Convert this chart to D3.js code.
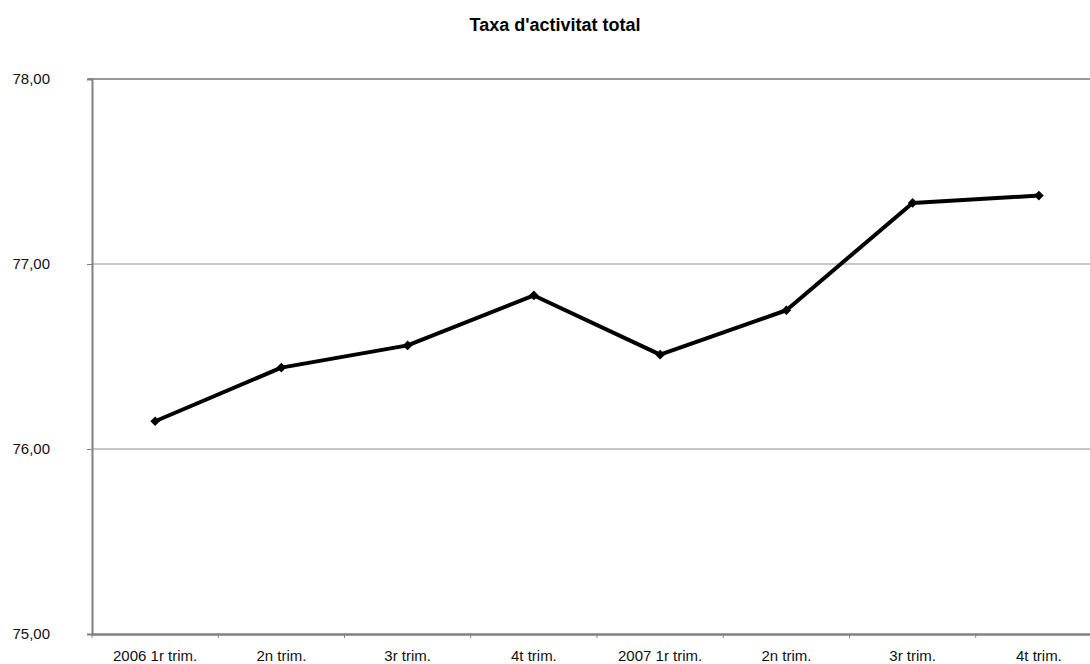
<!DOCTYPE html>
<html><head><meta charset="utf-8">
<script src="https://cdn.jsdelivr.net/npm/d3@7"></script>
<style>body{margin:0;background:#fff;} svg{display:block;font-family:Arial,"Liberation Sans",sans-serif;}</style>
</head><body>
<script>
const categories = ["2006 1r trim.","2n trim.","3r trim.","4t trim.","2007 1r trim.","2n trim.","3r trim.","4t trim."];
const values = [76.15, 76.44, 76.56, 76.83, 76.51, 76.75, 77.33, 77.37];
const yTicks = [75, 76, 77, 78];
const title = "Taxa d'activitat total";

const W = 1090, H = 664;
const m = {left: 92, top: 79, right: -12, bottom: 30};
const svg = d3.select("body").append("svg").attr("width", W).attr("height", H);

const x = d3.scaleBand().domain(d3.range(categories.length)).range([m.left, W - m.right]).padding(0);
const y = d3.scaleLinear().domain([75, 78]).range([H - m.bottom, m.top]);

svg.append("text").attr("x", 555).attr("y", 30.5).attr("text-anchor", "middle")
  .attr("font-weight", "bold").attr("font-size", 18).text(title);

// gridlines
svg.append("g").selectAll("line").data(yTicks.filter(d => d > 75 && d < 78)).join("line")
  .attr("x1", m.left).attr("x2", W).attr("y1", d => y(d)).attr("y2", d => y(d))
  .attr("stroke", "#b4b4b4").attr("stroke-width", 1.5);
// top border
svg.append("line").attr("x1", m.left - 4).attr("x2", W).attr("y1", y(78)).attr("y2", y(78))
  .attr("stroke", "#999").attr("stroke-width", 2);

// y axis
const ya = d3.axisLeft(y).tickValues(yTicks).tickSize(5).tickFormat(d => d3.format(".2f")(d).replace(".", ","));
const gy = svg.append("g").attr("transform", `translate(${m.left},0)`).call(ya);
gy.select(".domain").attr("stroke", "#808080").attr("stroke-width", 2);
gy.selectAll(".tick line").attr("stroke", "#808080");
gy.selectAll(".tick text").attr("x", -42).attr("font-size", 15).attr("fill", "#111").attr("font-family", "Arial, Liberation Sans, sans-serif");

// x axis
const xa = d3.axisBottom(x).tickFormat(i => categories[i]).tickSize(0);
const gx = svg.append("g").attr("transform", `translate(0,${y(75)})`).call(xa);
gx.select(".domain").attr("stroke", "#808080").attr("stroke-width", 2.5);
gx.selectAll(".tick text").attr("y", 16).attr("font-size", 15).attr("fill", "#111").attr("font-family", "Arial, Liberation Sans, sans-serif");
// category boundary ticks
svg.append("g").selectAll("line").data(d3.range(categories.length + 1)).join("line")
  .attr("x1", i => m.left + i * x.step()).attr("x2", i => m.left + i * x.step())
  .attr("y1", y(75)).attr("y2", y(75) + 4).attr("stroke", "#808080").attr("stroke-width", 1);

// line
const line = d3.line().x((d, i) => x(i) + x.bandwidth() / 2).y(d => y(d));
svg.append("path").datum(values).attr("d", line).attr("fill", "none")
  .attr("stroke", "#000").attr("stroke-width", 4).attr("stroke-linejoin", "round");
svg.append("g").selectAll("path").data(values).join("path")
  .attr("d", d3.symbol(d3.symbolDiamond2, 60)())
  .attr("transform", (d, i) => `translate(${x(i) + x.bandwidth() / 2},${y(d)})`)
  .attr("fill", "#000");
</script>
</body></html>
